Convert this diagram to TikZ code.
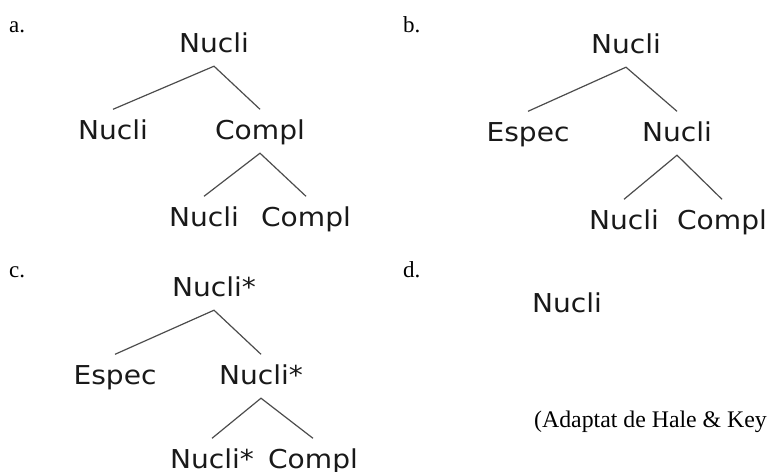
\documentclass[tikz,border=0pt]{standalone}
\usepackage{fontspec}
\setmainfont{Liberation Serif}
\newfontfamily\treefont[FakeStretch=1.08]{DejaVu Sans}
\begin{document}
\begin{tikzpicture}[x=1pt,y=-1pt,
  tn/.style={font=\treefont\fontsize{26}{26}\selectfont, text=black!90, anchor=base,
             inner sep=0pt, text height=29.5pt, text depth=14pt},
  lab/.style={font=\fontsize{23}{23}\selectfont, anchor=base west, inner sep=0pt},
  br/.style={draw=black!70, line width=1.2pt}]
\useasboundingbox (0,0) rectangle (768,471);

% labels
\node[lab] (la) at (9,32) {a.};
\node[lab] (lb) at (403,32) {b.};
\node[lab] (lc) at (9,277) {c.};
\node[lab] (ld) at (403,277) {d.};
\node[lab, font=\fontsize{23.8}{23.8}\selectfont] (src) at (534,427) {(Adaptat de Hale \& Key};

% tree a
\node[tn] (a0) at (214,52) {Nucli};
\node[tn] (a1) at (113,139) {Nucli};
\node[tn] (a2) at (260,139) {Compl};
\node[tn] (a3) at (204,226) {Nucli};
\node[tn] (a4) at (306,226) {Compl};
\draw[br] (a1.north) -- (a0.south) -- (a2.north);
\draw[br] (a3.north) -- (a2.south) -- (a4.north);

% tree b
\node[tn] (b0) at (626,53) {Nucli};
\node[tn] (b1) at (528,141) {Espec};
\node[tn] (b2) at (677,141) {Nucli};
\node[tn] (b3) at (624,229) {Nucli};
\node[tn] (b4) at (722,229) {Compl};
\draw[br] (b1.north) -- (b0.south) -- (b2.north);
\draw[br] (b3.north) -- (b2.south) -- (b4.north);

% tree c
\node[tn] (c0) at (214,296) {Nucli*};
\node[tn] (c1) at (115,384) {Espec};
\node[tn] (c2) at (261,384) {Nucli*};
\node[tn] (c3) at (212,468) {Nucli*};
\node[tn] (c4) at (313,468) {Compl};
\draw[br] (c1.north) -- (c0.south) -- (c2.north);
\draw[br] (c3.north) -- (c2.south) -- (c4.north);

% d
\node[tn] (d0) at (567,312) {Nucli};
\end{tikzpicture}
\end{document}
